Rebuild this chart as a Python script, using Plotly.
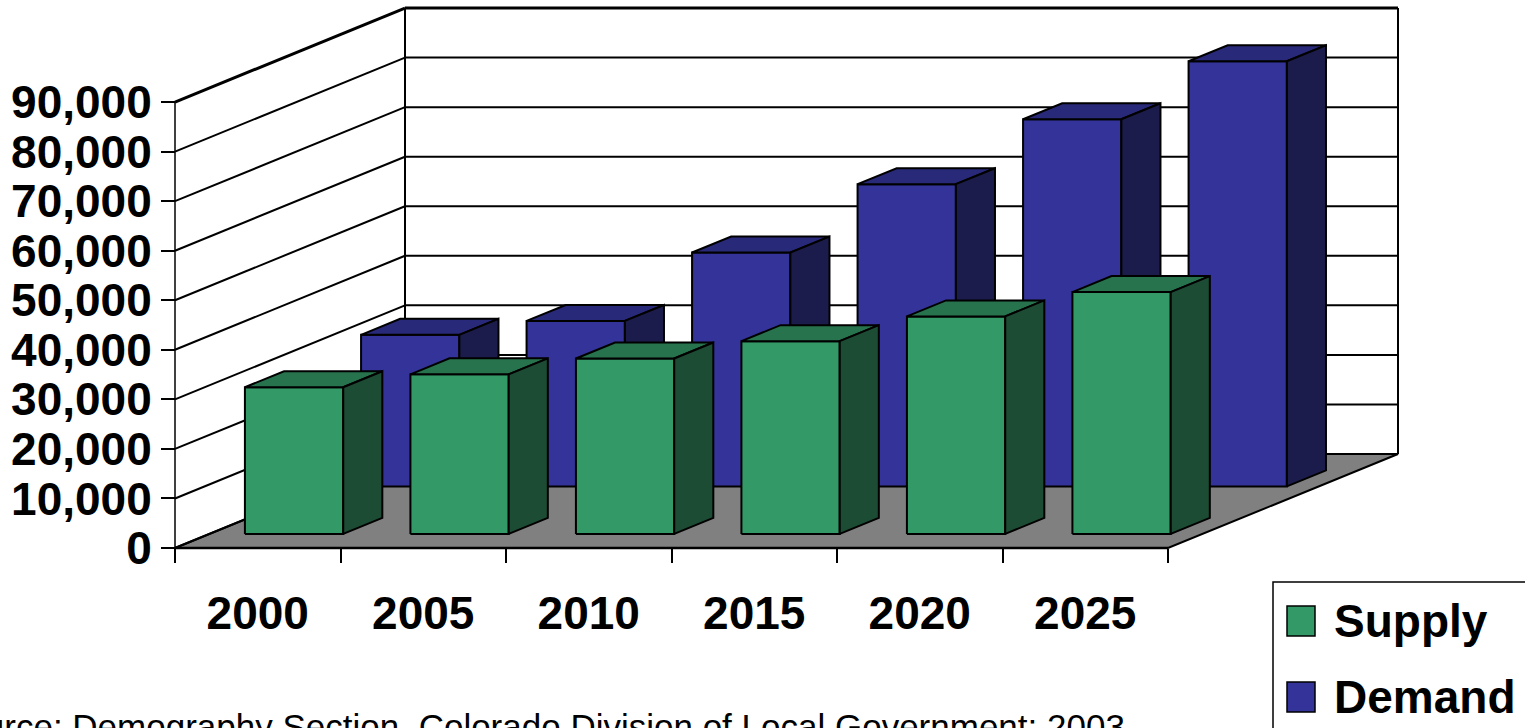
import plotly.graph_objects as go

# ---- data -------------------------------------------------------------
years = ["2000", "2005", "2010", "2015", "2020", "2025"]
supply = [29600, 32200, 35400, 38900, 43900, 48800]
demand = [30600, 33400, 47200, 61000, 74100, 85800]
y_ticks = [0, 10000, 20000, 30000, 40000, 50000, 60000, 70000, 80000, 90000]

# ---- page / projection geometry --------------------------------------
W, H = 1525, 728
X0_PX, Y0_PX = 175, 548          # front-left corner of the floor
CAT_PX = 165.5                   # pixels per category
VAL_PX = 4.955 / 1000            # pixels per unit of value
DEPTH_X = 230 / CAT_PX           # oblique depth offset, in category units
DEPTH_Y = 94 / VAL_PX            # oblique depth offset, in value units

BAR_X = (0.214, 0.808)           # bar span inside a category
ROWS = {"Supply": (0.150, 0.320), "Demand": (0.655, 0.825)}

COLORS = {
    "Supply": ("#339966", "#27734d", "#1c4c33"),
    "Demand": ("#333399", "#292979", "#1c1c4c"),
}

FONT = "Liberation Sans, Arial, sans-serif"
n = len(years)
y_max = y_ticks[-1]

fig = go.Figure()


def polygon(xs, ys, fill, width=2.0):
    fig.add_trace(go.Scatter(
        x=xs + [xs[0]], y=ys + [ys[0]], mode="lines", fill="toself",
        fillcolor=fill, line=dict(color="black", width=width),
        hoverinfo="skip", showlegend=False))


def segments(pairs, width=2.0, color="black"):
    xs, ys = [], []
    for (xa, ya), (xb, yb) in pairs:
        xs += [xa, xb, None]
        ys += [ya, yb, None]
    fig.add_trace(go.Scatter(
        x=xs, y=ys, mode="lines", line=dict(color=color, width=width),
        hoverinfo="skip", showlegend=False))


# floor
polygon([0, n, n + DEPTH_X, DEPTH_X], [0, 0, DEPTH_Y, DEPTH_Y], "#808080", 2)

# side-wall diagonals and back-wall gridlines
segments([((0, v), (DEPTH_X, v + DEPTH_Y)) for v in y_ticks[:-1]], 2)
segments([((DEPTH_X, v + DEPTH_Y), (n + DEPTH_X, v + DEPTH_Y)) for v in y_ticks[:-1]], 2)
segments([((DEPTH_X, DEPTH_Y), (DEPTH_X, y_max + DEPTH_Y)),
          ((n + DEPTH_X, DEPTH_Y), (n + DEPTH_X, y_max + DEPTH_Y))], 2)
segments([((0, y_max), (DEPTH_X, y_max + DEPTH_Y)),
          ((DEPTH_X, y_max + DEPTH_Y), (n + DEPTH_X, y_max + DEPTH_Y))], 3)

# value axis line on the front plane
segments([((0, 0), (0, y_max))], 1.5)
# front edge of the floor
segments([((0, 0), (n, 0))], 2.5)


def bar3d(i, value, series):
    d0, d1 = ROWS[series]
    front, top, side = COLORS[series]
    a, b = i + BAR_X[0], i + BAR_X[1]
    ox0, oy0 = d0 * DEPTH_X, d0 * DEPTH_Y
    ox1, oy1 = d1 * DEPTH_X, d1 * DEPTH_Y
    polygon([a + ox0, b + ox0, b + ox0, a + ox0],
            [oy0, oy0, value + oy0, value + oy0], front)
    polygon([a + ox0, b + ox0, b + ox1, a + ox1],
            [value + oy0, value + oy0, value + oy1, value + oy1], top)
    polygon([b + ox0, b + ox1, b + ox1, b + ox0],
            [oy0, oy1, value + oy1, value + oy0], side)


# back row first, then front row
for i, v in enumerate(demand):
    bar3d(i, v, "Demand")
for i, v in enumerate(supply):
    bar3d(i, v, "Supply")

# ---- legend box (drawn in page pixels) ------------------------------
def px(x):
    return x / W


def py(y):
    return 1 - y / H


shapes = [
    dict(type="rect", xref="paper", yref="paper",
         x0=px(1273), x1=px(1540), y0=py(745), y1=py(582),
         line=dict(color="black", width=1.5), fillcolor="white", layer="above"),
]
annotations = []
for name, cy in (("Supply", 621), ("Demand", 697)):
    shapes.append(dict(type="rect", xref="paper", yref="paper",
                       x0=px(1287), x1=px(1315), y0=py(cy + 15), y1=py(cy - 15),
                       line=dict(color="black", width=1.5),
                       fillcolor=COLORS[name][0], layer="above"))
    annotations.append(dict(text=name, xref="paper", yref="paper",
                            x=px(1332), y=py(cy), xanchor="left", yanchor="middle",
                            showarrow=False,
                            font=dict(family=FONT, size=46, color="black", weight="bold")))

annotations.append(dict(
    text="Source: Demography Section, Colorado Division of Local Government; 2003",
    xref="paper", yref="paper", x=px(1127), y=py(705), xanchor="right", yanchor="top",
    showarrow=False, font=dict(family=FONT, size=35, color="black")))

fig.update_layout(
    width=W, height=H,
    margin=dict(l=0, r=0, t=0, b=0),
    paper_bgcolor="white", plot_bgcolor="white",
    showlegend=False,
    shapes=shapes, annotations=annotations,
    xaxis=dict(
        range=[-X0_PX / CAT_PX, (W - X0_PX) / CAT_PX],
        domain=[0, 1], anchor="free", position=(H - Y0_PX) / H,
        tickmode="array", tickvals=[i + 0.5 for i in range(n)], ticktext=years,
        ticks="", ticklabelstandoff=34,
        tickfont=dict(family=FONT, size=46, color="black", weight="bold"),
        minor=dict(tickmode="array", tickvals=list(range(n + 1)), ticks="outside",
                   ticklen=14, tickwidth=2, tickcolor="black", showgrid=False),
        showgrid=False, zeroline=False, showline=False, automargin=False,
        fixedrange=True,
    ),
    yaxis=dict(
        range=[-(H - Y0_PX) / VAL_PX, Y0_PX / VAL_PX],
        domain=[0, 1], anchor="free", position=X0_PX / W,
        tickmode="array", tickvals=y_ticks, tickformat=",d",
        ticks="outside", ticklen=14, tickwidth=1.5, tickcolor="black",
        tickfont=dict(family=FONT, size=46, color="black", weight="bold"),
        showgrid=False, zeroline=False, showline=False, automargin=False,
        fixedrange=True,
    ),
)

fig.write_html("out.html")
